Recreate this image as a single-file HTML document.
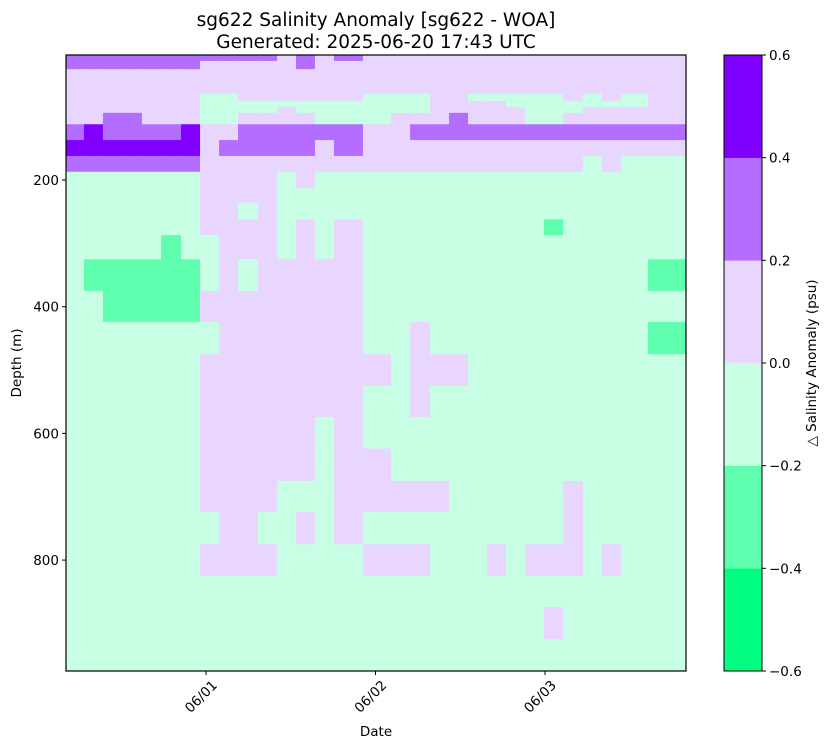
<!DOCTYPE html>
<html><head><meta charset="utf-8"><style>
body{margin:0;background:#fff;}
svg{display:block;font-family:"DejaVu Sans","Liberation Sans",sans-serif;}
</style></head><body>
<svg id="chart" width="828" height="748" viewBox="0 0 828 748">
<text x="376" y="26" text-anchor="middle" font-size="18.5">sg622 Salinity Anomaly [sg622 - WOA]</text>
<text x="376" y="48" text-anchor="middle" font-size="18.5">Generated: 2025-06-20 17:43 UTC</text>
<g id="cells"></g>
<g id="axes"></g>
<g id="cbar"></g>
<text x="376" y="736" text-anchor="middle" font-size="13.5">Date</text>
<text transform="translate(21,363) rotate(-90)" text-anchor="middle" font-size="13.5">Depth (m)</text>
<text transform="translate(816,363) rotate(-90)" text-anchor="middle" font-size="13.5">△ Salinity Anomaly (psu)</text>
</svg>
<script>
// dive time edges (days relative to 06/01 00:00)
const timeEdges = [-0.826,-0.720,-0.608,-0.490,-0.378,-0.265,-0.147,-0.035,0.077,0.189,0.307,0.419,0.531,0.643,0.755,0.926,1.091,1.204,1.322,1.434,1.546,1.658,1.770,1.882,1.994,2.106,2.224,2.336,2.448,2.608,2.832];
// depth bin edges (m)
const depthEdges = [2.7,12,25,64,75,85,94,112,137,162,187,213,236,262,287,325,375,424,475,525,574,624,675,724,775,825,874,925,975];
// anomaly codes per depth row -> values
const codeValues = {G:-0.1, M:-0.3, L:0.1, P:0.3, D:0.5};
const anomalyRows = [
"PPPPPPPPPPPLPLPLLLLLLLLLLLLLLL",
"PPPPPPPLLLLLPLLLLLLLLLLLLLLLLL",
"LLLLLLLLLLLLLLLLLLLLLLLLLLLLLL",
"LLLLLLLGGLLLLLLGGGLLGGGGGLGLGL",
"LLLLLLLGGGGGGGGGGGLLLLGGGGGGGL",
"LLLLLLLGGGGLGGGGGGLLLLLGGGLLLL",
"LLPPLLLGGLLLLGGGLLLPLLLGGLLLLL",
"PDPPPPDLLPPPPPPLLPPPPPPPPPPPPP",
"DDDDDDDLPPPPPLPLLLLLLLLLLLLLLL",
"PPPPPPPLLLLLLLLLLLLLLLLLLLGLGG",
"GGGGGGGLLLLGLGGGGGGGGGGGGGGGGG",
"GGGGGGGLLLLGGGGGGGGGGGGGGGGGGG",
"GGGGGGGLLGLGGGGGGGGGGGGGGGGGGG",
"GGGGGGGLLLLGLGLGGGGGGGGGMGGGGG",
"GGGGGMGGLLLGLGLGGGGGGGGGGGGGGG",
"GMMMMMMGLGLLLLLGGGGGGGGGGGGGGM",
"GGMMMMMLLLLLLLLGGGGGGGGGGGGGGG",
"GGGGGGGGLLLLLLLGGLGGGGGGGGGGGM",
"GGGGGGGLLLLLLLLLGLLLGGGGGGGGGG",
"GGGGGGGLLLLLLLLGGLGGGGGGGGGGGG",
"GGGGGGGLLLLLLGLGGGGGGGGGGGGGGG",
"GGGGGGGLLLLLLGLLGGGGGGGGGGGGGG",
"GGGGGGGLLLLGGGLLLLLGGGGGGLGGGG",
"GGGGGGGGLLGGLGLGGGGGGGGGGLGGGG",
"GGGGGGGLLLLGGGGLLLGGGLGLLLGLGG",
"GGGGGGGGGGGGGGGGGGGGGGGGGGGGGG",
"GGGGGGGGGGGGGGGGGGGGGGGGLGGGGG",
"GGGGGGGGGGGGGGGGGGGGGGGGGGGGGG"
];
const levelBounds = [-0.6,-0.4,-0.2,0,0.2,0.4,0.6];
const levelColors = ["#00ff80","#60ffb0","#c8ffe4","#e9d6ff","#b36dff","#8000ff"];
const depthTicks = [200,400,600,800];
const dateTicks = [0,1,2];
const dateLabels = ["06/01","06/02","06/03"];
const cbarTicks = ["\u22120.6","\u22120.4","\u22120.2","0.0","0.2","0.4","0.6"];

const NS="http://www.w3.org/2000/svg";
const X0=66,X1=686,Y0=55,Y1=671;
const xScale=t=>206+t*169.5;
const yScale=d=>53.3+d*0.6335;
function colorFor(v){for(let i=0;i<levelColors.length;i++){if(v<levelBounds[i+1])return levelColors[i];}return levelColors[levelColors.length-1];}
function mk(tag,attrs,parent){const e=document.createElementNS(NS,tag);for(const k in attrs)e.setAttribute(k,attrs[k]);parent.appendChild(e);return e;}

const cells=document.getElementById('cells');
anomalyRows.forEach((row,r)=>{
  for(let c=0;c<row.length;c++){
    const v=codeValues[row[c]];
    const x=xScale(timeEdges[c]),x2=xScale(timeEdges[c+1]);
    const y=Math.max(Y0,yScale(depthEdges[r])),y2=Math.min(Y1,yScale(depthEdges[r+1]));
    const rc=mk('rect',{x:x,y:y,width:x2-x+0.4,height:y2-y+0.4,fill:colorFor(v)},cells);
    
    
  }
});

const axes=document.getElementById('axes');
const frame=mk('rect',{x:X0,y:Y0,width:X1-X0,height:Y1-Y0,fill:'none',stroke:'#000','stroke-width':1.2},axes);


depthTicks.forEach(d=>{
  const y=yScale(d);
  const t=mk('line',{x1:X0-4,x2:X0,y1:y,y2:y,stroke:'#000'},axes);
  
  
  const l=mk('text',{x:X0-7,y:y+5,'text-anchor':'end','font-size':13.5},axes);
  l.textContent=d;
  
  
});
dateTicks.forEach((t,i)=>{
  const x=xScale(t);
  const tk=mk('line',{x1:x,x2:x,y1:Y1,y2:Y1+4,stroke:'#000'},axes);
  
  
  const l=mk('text',{transform:`translate(${x+12},${Y1+15}) rotate(-45)`,'text-anchor':'end','font-size':13.5},axes);
  l.textContent=dateLabels[i];
  
  
});

const cbar=document.getElementById('cbar');
const CX=724,CW=38;
const cy=v=>Y1-(v+0.6)/1.2*(Y1-Y0);
levelColors.forEach((col,i)=>{
  const y1=cy(levelBounds[i+1]),y2=cy(levelBounds[i]);
  const r=mk('rect',{x:CX,y:y1,width:CW,height:y2-y1+0.3,fill:col},cbar);
  
  
});
const cf=mk('rect',{x:CX,y:Y0,width:CW,height:Y1-Y0,fill:'none',stroke:'#000','stroke-width':1},cbar);


levelBounds.forEach((v,i)=>{
  const y=cy(v);
  const t=mk('line',{x1:CX+CW,x2:CX+CW+4,y1:y,y2:y,stroke:'#000'},cbar);
  
  
  const l=mk('text',{x:CX+CW+7,y:y+5,'font-size':13.5},cbar);
  l.textContent=cbarTicks[i];
  
  
});
</script>
</body></html>
